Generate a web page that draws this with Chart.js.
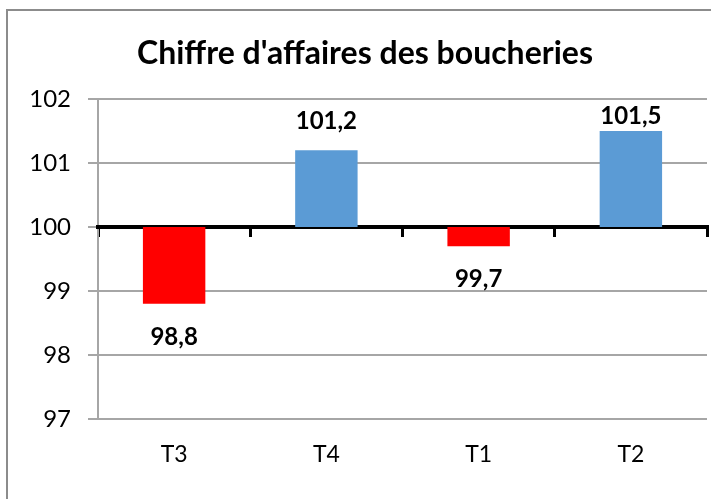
<!DOCTYPE html>
<html><head><meta charset="utf-8">
<script src="https://cdn.jsdelivr.net/npm/chart.js@4/dist/chart.umd.min.js"></script>
<style>
html,body{margin:0;padding:0;background:#fff;overflow:hidden;}
#wrap{position:relative;width:711px;height:499px;overflow:hidden;}
#frame{position:absolute;left:6px;top:9px;width:800px;height:600px;border:2px solid #8c8c8c;box-sizing:border-box;}
canvas{position:absolute;left:0;top:0;}
</style></head><body>
<div id="wrap"><div id="frame"></div><canvas id="c" width="711" height="499"></canvas></div>
<script>
const titleText = "Chiffre d'affaires des boucheries";
const categories = ['T3', 'T4', 'T1', 'T2'];
const values = [98.8, 101.2, 99.7, 101.5];
const valueLabels = ['98,8', '101,2', '99,7', '101,5'];
const baseline = 100;
const yMin = 97, yMax = 102, yStep = 1;

const FONT = 'Lato, "Open Sans", sans-serif';
const RED = '#FF0000', BLUE = '#5B9BD5', GRID = '#A6A6A6';

const labelPlugin = {
  id: 'valueLabels',
  afterDatasetsDraw(chart) {
    const ctx = chart.ctx;
    const meta = chart.getDatasetMeta(0);
    const yScale = chart.scales.y;
    const offs = chart.options.plugins.valueLabels.offsets;
    ctx.save();
    ctx.font = 'bold 24px ' + FONT;
    ctx.fillStyle = '#000';
    ctx.textAlign = 'center';
    ctx.textBaseline = 'middle';
    meta.data.forEach((bar, i) => {
      const v = values[i];
      const py = yScale.getPixelForValue(v);
      const y = v >= baseline ? py - offs[i] : py + offs[i];
      ctx.fillText(valueLabels[i], bar.x, y);
    });
    ctx.restore();
  }
};

new Chart(document.getElementById('c'), {
  type: 'bar',
  data: {
    labels: categories,
    datasets: [{
      data: values.map(v => [baseline, v]),
      backgroundColor: values.map(v => v < baseline ? RED : BLUE),
      borderWidth: 0,
      categoryPercentage: 1,
      barPercentage: 0.41
    }]
  },
  options: {
    responsive: false,
    animation: false,
    devicePixelRatio: 1,
    layout: { padding: { left: 23, right: 4, top: 0, bottom: 0 } },
    plugins: {
      legend: { display: false },
      tooltip: { enabled: false },
      title: {
        display: true,
        text: titleText,
        color: '#000',
        font: { family: FONT, size: 32, weight: 'bold', lineHeight: 1.2 },
        padding: { top: 34, bottom: 26.6 }
      },
      valueLabels: { offsets: [33, 29, 33, 15] }
    },
    scales: {
      y: {
        min: yMin, max: yMax,
        afterFit(s) { s.width = 75; },
        ticks: { stepSize: yStep, color: '#000', padding: 17, font: { family: FONT, size: 24 } },
        grid: { color: GRID, lineWidth: 2, tickLength: 10, drawTicks: true },
        border: { display: true, color: GRID, width: 2 }
      },
      x: {
        afterFit(s) { s.height = 80; },
        grid: { display: false, drawTicks: false },
        border: { display: false },
        ticks: { color: '#000', padding: 22, font: { family: FONT, size: 23 } }
      },
      x2: {
        axis: 'x',
        type: 'category',
        position: { y: baseline },
        z: 1,
        grid: { offset: true, drawOnChartArea: false, drawTicks: true, tickLength: 8, color: '#000', lineWidth: 3 },
        border: { display: true, color: '#000', width: 4 },
        ticks: { display: false }
      }
    }
  },
  plugins: [labelPlugin]
});
</script>
</body></html>
